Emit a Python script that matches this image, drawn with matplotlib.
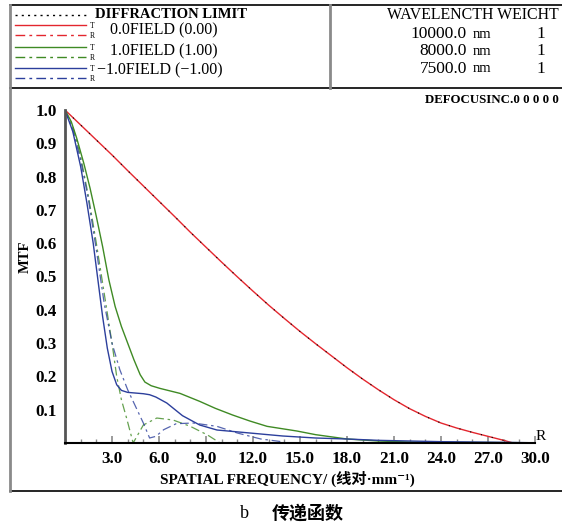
import matplotlib
matplotlib.use("Agg")
import matplotlib.pyplot as plt
from matplotlib.lines import Line2D
from matplotlib.ticker import MultipleLocator

# 0.0 field (T and R overlap) and diffraction limit
red_f = [0, 1, 2, 3, 4, 5, 6, 7, 8, 9, 10, 11, 12, 13, 14, 15, 16, 17, 18, 19,
         20, 21, 22, 23, 24, 25, 26, 27, 28, 28.6]
red_m = [1.0, 0.955, 0.91, 0.865, 0.818, 0.772, 0.726, 0.68, 0.633, 0.588,
         0.543, 0.499, 0.456, 0.414, 0.374, 0.335, 0.298, 0.262, 0.226, 0.192,
         0.16, 0.13, 0.103, 0.08, 0.06, 0.045, 0.032, 0.02, 0.008, 0.0]

# 1.0 field
green_t_f = [0, 0.4, 0.75, 1.2, 1.6, 2.0, 2.4, 2.8, 3.2, 3.6, 4.0, 4.4, 4.8,
             5.1, 5.5, 6.06, 7.34, 8.6, 9.6, 10.7, 11.8, 12.9, 14.8, 16, 18,
             20, 22, 25, 29]
green_t_m = [1.0, 0.965, 0.915, 0.84, 0.765, 0.68, 0.59, 0.49, 0.41, 0.35, 0.3,
             0.25, 0.205, 0.183, 0.172, 0.164, 0.149, 0.125, 0.104, 0.084,
             0.066, 0.05, 0.036, 0.025, 0.012, 0.006, 0.003, 0.002, 0.001]
green_r_f = [0, 0.5, 1.0, 1.5, 2.0, 2.5, 3.0, 3.3, 3.6, 3.93, 4.35, 5.0, 5.86,
             6.9, 8.0, 9.1, 9.9]
green_r_m = [1.0, 0.95, 0.86, 0.74, 0.6, 0.45, 0.3, 0.2, 0.13, 0.075, 0.0,
             0.054, 0.075, 0.069, 0.05, 0.024, 0.0]

# -1.0 field
blue_t_f = [0, 0.5, 1.0, 1.4, 1.8, 2.1, 2.4, 2.7, 3.0, 3.3, 3.6, 4.0, 4.5, 5.0,
            5.4, 5.8, 6.5, 7.5, 8.6, 9.7, 11.8, 13.9, 16, 18, 20, 24, 28, 29.5]
blue_t_m = [1.0, 0.935, 0.83, 0.72, 0.6, 0.49, 0.38, 0.285, 0.215, 0.175,
            0.158, 0.152, 0.15, 0.148, 0.145, 0.138, 0.12, 0.082, 0.054, 0.039,
            0.03, 0.021, 0.015, 0.012, 0.008, 0.004, 0.002, 0.001]
blue_r_f = [0, 0.5, 1.0, 1.5, 2.0, 2.5, 3.0, 3.5, 4.0, 4.5, 5.0, 5.4, 5.8, 6.3,
            7.1, 8.2, 9.7, 11, 12.5, 14]
blue_r_m = [1.0, 0.94, 0.85, 0.73, 0.58, 0.42, 0.3, 0.22, 0.16, 0.11, 0.06,
            0.015, 0.02, 0.04, 0.058, 0.06, 0.05, 0.03, 0.012, 0.003]

x_ticks = [3, 6, 9, 12, 15, 18, 21, 24, 27, 30]
y_ticks = [0.1, 0.2, 0.3, 0.4, 0.5, 0.6, 0.7, 0.8, 0.9, 1.0]

RED, GREEN, BLUE = "#e3262e", "#3f8a24", "#2c3f9c"
SERIF = ["Liberation Serif", "DejaVu Serif"]
MIXED = ["Liberation Serif", "Noto Sans CJK SC", "DejaVu Serif"]
DASH = (0, (7, 3, 2, 3))

W, H = 562, 525
fig = plt.figure(figsize=(W / 100, H / 100), dpi=100)


def fx(px):
    return px / W


def fy(py):
    return 1 - py / H


# frame lines of the header / outer box
def fline(x0, y0, x1, y1, **kw):
    fig.add_artist(Line2D([fx(x0), fx(x1)], [fy(y0), fy(y1)], **kw))


fline(10, 5, 562, 5, color="black", lw=1.2)
fline(10, 88, 562, 88, color="black", lw=1.2)
fline(10, 491, 562, 491, color="black", lw=1.2)
fline(10, 5, 10, 491, color="#8a8a8a", lw=2)
fline(330, 5, 330, 88, color="#8a8a8a", lw=2)

# legend on the left of the header
leg = [(15, "k", (0, (1.5, 3)), None),
       (25, RED, "-", "T"), (35, RED, DASH, "R"),
       (47, GREEN, "-", "T"), (57, GREEN, DASH, "R"),
       (68, BLUE, "-", "T"), (78, BLUE, DASH, "R")]
for y, c, ls, tag in leg:
    fline(15, y, 86, y, color=c, lw=1, linestyle=ls)
    if tag:
        fig.text(fx(92), fy(y + 1), tag, fontsize=5.5, family=SERIF,
                 ha="center", va="center")
fig.text(fx(95), fy(15), "DIFFRACTION LIMIT", fontsize=10.5, family=SERIF,
         weight="bold", va="center")
fig.text(fx(110), fy(30), "0.0FIELD (0.00)", fontsize=11.5, family=SERIF,
         va="center")
fig.text(fx(110), fy(51), "1.0FIELD (1.00)", fontsize=11.5, family=SERIF,
         va="center")
fig.text(fx(97), fy(70), "\u22121.0FIELD (\u22121.00)", fontsize=11.5,
         family=SERIF, va="center")

# wavelength table
fig.text(fx(387), fy(15), "WAVELENCTH WEICHT", fontsize=11.4, family=SERIF,
         va="center")
for y, wl in [(34, "10000.0"), (51, "8000.0"), (69, "7500.0")]:
    fig.text(fx(467), fy(y), wl, fontsize=12.5, family=SERIF, ha="right",
             va="center")
    fig.text(fx(473), fy(y), "nm", fontsize=10.5, family=SERIF, va="center")
    fig.text(fx(541), fy(y), "1", fontsize=12.5, family=SERIF, ha="center",
             va="center")
fig.text(fx(559), fy(100), "DEFOCUSINC.0 0 0 0 0", fontsize=9.3,
         family=SERIF, weight="bold", ha="right", va="center")

# plot area
ax = fig.add_axes([fx(65), fy(443), (535 - 65) / W, (443 - 110) / H])
ax.plot(red_f, red_m, color=RED, lw=1)
ax.plot(red_f, red_m, color="k", lw=0.8, linestyle=(0, (1, 9)))
ax.plot(green_r_f, green_r_m, color=GREEN, lw=0.9, linestyle=DASH, alpha=0.8)
ax.plot(blue_r_f, blue_r_m, color=BLUE, lw=0.9, linestyle=DASH, alpha=0.8)
ax.plot(green_t_f, green_t_m, color=GREEN, lw=1)
ax.plot(blue_t_f, blue_t_m, color=BLUE, lw=1)

ax.set_xlim(0, 30)
ax.set_ylim(0, 1)
ax.set_xticks(x_ticks)
ax.set_xticklabels([f"{v:.1f}" for v in x_ticks])
ax.set_yticks(y_ticks)
ax.set_yticklabels([f"{v:.1f}" for v in y_ticks])
ax.xaxis.set_minor_locator(MultipleLocator(1))
ax.tick_params(axis="x", which="major", direction="in", length=5, width=1.2,
               color="#8a8a8a", pad=6)
ax.tick_params(axis="x", which="minor", direction="in", length=3, width=1,
               color="#8a8a8a")
ax.tick_params(axis="y", length=0, pad=6)
for lab in ax.get_xticklabels() + ax.get_yticklabels():
    lab.set_fontfamily(SERIF)
    lab.set_fontweight("bold")
    lab.set_fontsize(12.3)
for s in ["top", "right"]:
    ax.spines[s].set_visible(False)
ax.spines["left"].set_color("#555555")
ax.spines["left"].set_linewidth(2)
ax.spines["bottom"].set_linewidth(1.5)

fig.text(fx(25), fy(257), "MTF", fontsize=10.5, family=SERIF, weight="bold",
         rotation=90, ha="center", va="center")
fig.text(fx(541), fy(436), "R", fontsize=11, family=SERIF, ha="center",
         va="center")
fig.text(fx(160), fy(479), "SPATIAL FREQUENCY/ (线对·mm\u207b\u00b9)",
         fontsize=11, family=MIXED, weight="bold", va="center")
fig.text(fx(240), fy(514), "b", fontsize=13, family=SERIF, va="center")
fig.text(fx(272), fy(514), "传递函数", fontsize=13, family=MIXED,
         weight="bold", va="center")

fig.savefig("out.png", dpi=100)
